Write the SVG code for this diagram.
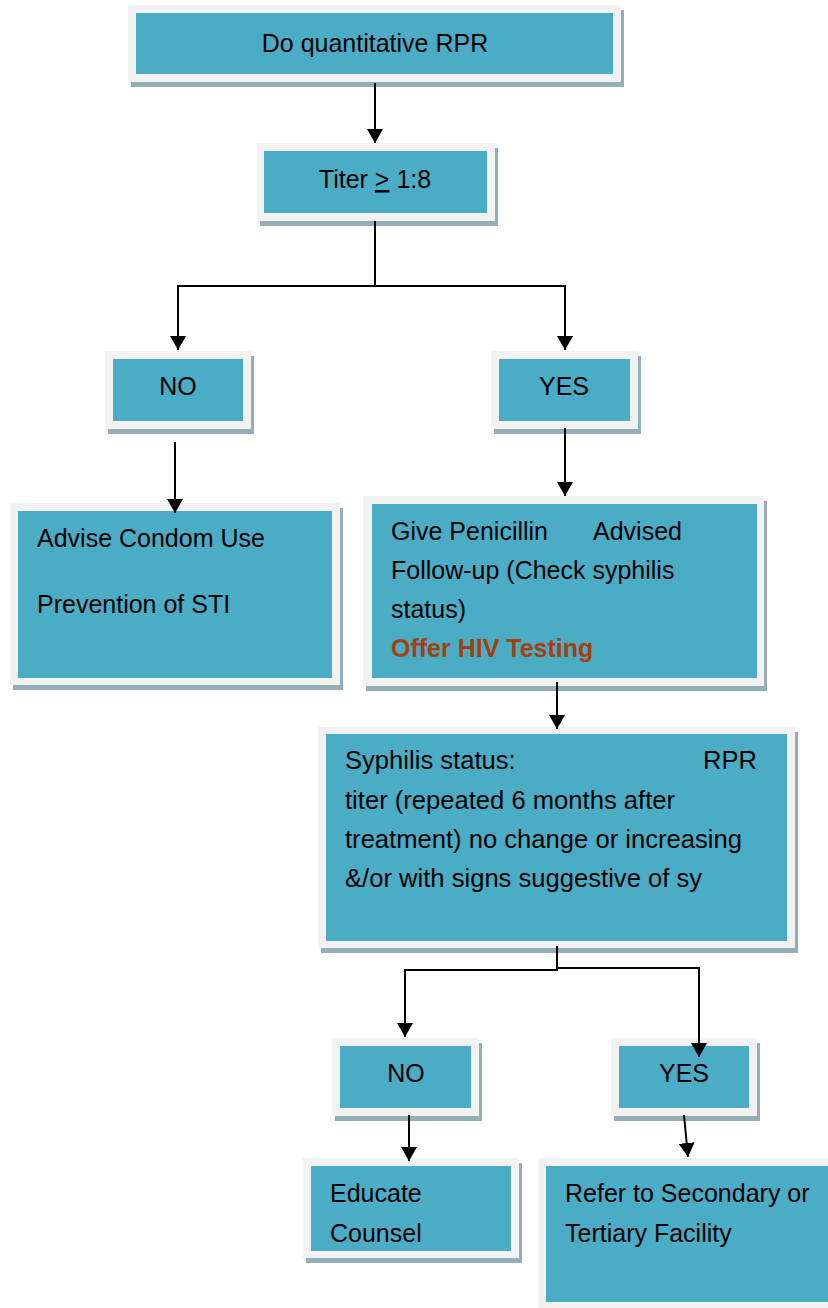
<svg xmlns="http://www.w3.org/2000/svg" width="828" height="1308" viewBox="0 0 828 1308">
<defs>
<style>
.sh{fill:#93aeb6}
.fr{fill:#f2f2f2}
.in{fill:#4bacc6}
text{font-family:"Liberation Sans",Arial,sans-serif;font-size:25px;fill:#000}
.c{text-anchor:middle}
.big{font-size:25.6px}
.hiv{font-weight:bold;fill:#a3400e}
.ln{fill:none;stroke:#000;stroke-width:2}
</style>
<marker id="ah" viewBox="0 0 14 16" refX="14" refY="8" markerWidth="14" markerHeight="16" orient="auto" markerUnits="userSpaceOnUse">
<path d="M0,0 L14,8 L0,16 z" fill="#000"/>
</marker>
</defs>
<rect width="828" height="1308" fill="#fff"/>

<g id="n-rpr">
<rect class="sh" x="131" y="10" width="493" height="77"/>
<rect class="fr" x="128" y="5" width="493" height="77"/>
<rect class="in" x="136" y="13" width="477" height="61"/>
<text class="c" x="375" y="52">Do quantitative RPR</text>
</g>

<g id="n-titer">
<rect class="sh" x="260" y="148" width="238" height="78"/>
<rect class="fr" x="257" y="143" width="238" height="78"/>
<rect class="in" x="264" y="151" width="223" height="62"/>
<text class="c" x="375" y="188">Titer <tspan text-decoration="underline">&gt;</tspan> 1:8</text>
</g>

<g id="n-no1">
<rect class="sh" x="108" y="356" width="146" height="78"/>
<rect class="fr" x="105" y="351" width="146" height="78"/>
<rect class="in" x="113" y="359" width="130" height="62"/>
<text class="c" x="178" y="395">NO</text>
</g>

<g id="n-yes1">
<rect class="sh" x="494" y="356" width="147" height="78"/>
<rect class="fr" x="491" y="351" width="147" height="78"/>
<rect class="in" x="499" y="359" width="131" height="62"/>
<text class="c" x="564" y="395">YES</text>
</g>

<g id="n-advise">
<rect class="sh" x="13" y="508" width="330" height="182"/>
<rect class="fr" x="10" y="503" width="330" height="182"/>
<rect class="in" x="18" y="511" width="314" height="167"/>
<text x="37" y="547">Advise Condom Use</text>
<text x="37" y="613">Prevention of STI</text>
</g>

<g id="n-give">
<rect class="sh" x="366" y="501" width="401" height="190"/>
<rect class="fr" x="363" y="496" width="401" height="190"/>
<rect class="in" x="372" y="504" width="385" height="174"/>
<text x="391" y="540">Give Penicillin</text>
<text x="593" y="540">Advised</text>
<text x="391" y="579">Follow-up (Check syphilis</text>
<text x="391" y="618">status)</text>
<text class="hiv" x="391" y="657">Offer HIV Testing</text>
</g>

<g id="n-status">
<rect class="sh" x="321" y="732" width="477" height="221"/>
<rect class="fr" x="318" y="727" width="477" height="221"/>
<rect class="in" x="326" y="734" width="461" height="207"/>
<text class="big" x="345" y="769">Syphilis status:</text>
<text class="big" x="703" y="769">RPR</text>
<text class="big" x="345" y="809">titer (repeated 6 months after</text>
<text class="big" x="345" y="848">treatment) no change or increasing</text>
<text class="big" x="345" y="887">&amp;/or with signs suggestive of sy</text>
</g>

<g id="n-no2">
<rect class="sh" x="335" y="1043" width="147" height="78"/>
<rect class="fr" x="332" y="1038" width="147" height="78"/>
<rect class="in" x="340" y="1046" width="131" height="62"/>
<text class="c" x="406" y="1082">NO</text>
</g>

<g id="n-yes2">
<rect class="sh" x="614" y="1043" width="146" height="78"/>
<rect class="fr" x="611" y="1038" width="146" height="78"/>
<rect class="in" x="619" y="1046" width="130" height="62"/>
<text class="c" x="684" y="1082">YES</text>
</g>

<g id="n-educate">
<rect class="sh" x="306" y="1163" width="216" height="100"/>
<rect class="fr" x="303" y="1158" width="216" height="100"/>
<rect class="in" x="311" y="1166" width="200" height="85"/>
<text x="330" y="1202">Educate</text>
<text x="330" y="1242">Counsel</text>
</g>

<g id="n-refer">
<rect class="fr" x="538" y="1158" width="290" height="150"/>
<rect class="in" x="546" y="1166" width="282" height="136"/>
<text x="565" y="1202">Refer to Secondary or</text>
<text x="565" y="1242">Tertiary Facility</text>
</g>

<g id="connectors">
<path class="ln" d="M375,83 V143" marker-end="url(#ah)"/>
<path class="ln" d="M375,221 V286 H178 V350" marker-end="url(#ah)"/>
<path class="ln" d="M375,286 H565 V350" marker-end="url(#ah)"/>
<path class="ln" d="M175,442 V513" marker-end="url(#ah)"/>
<path class="ln" d="M565,428 V496" marker-end="url(#ah)"/>
<path class="ln" d="M557,682 V729" marker-end="url(#ah)"/>
<path class="ln" d="M557,946 V970 H405 V1037" marker-end="url(#ah)"/>
<path class="ln" d="M556,968 H699 V1057" marker-end="url(#ah)"/>
<path class="ln" d="M409,1115 V1161" marker-end="url(#ah)"/>
<path class="ln" d="M684,1115 L688,1157" marker-end="url(#ah)"/>
</g>
</svg>
